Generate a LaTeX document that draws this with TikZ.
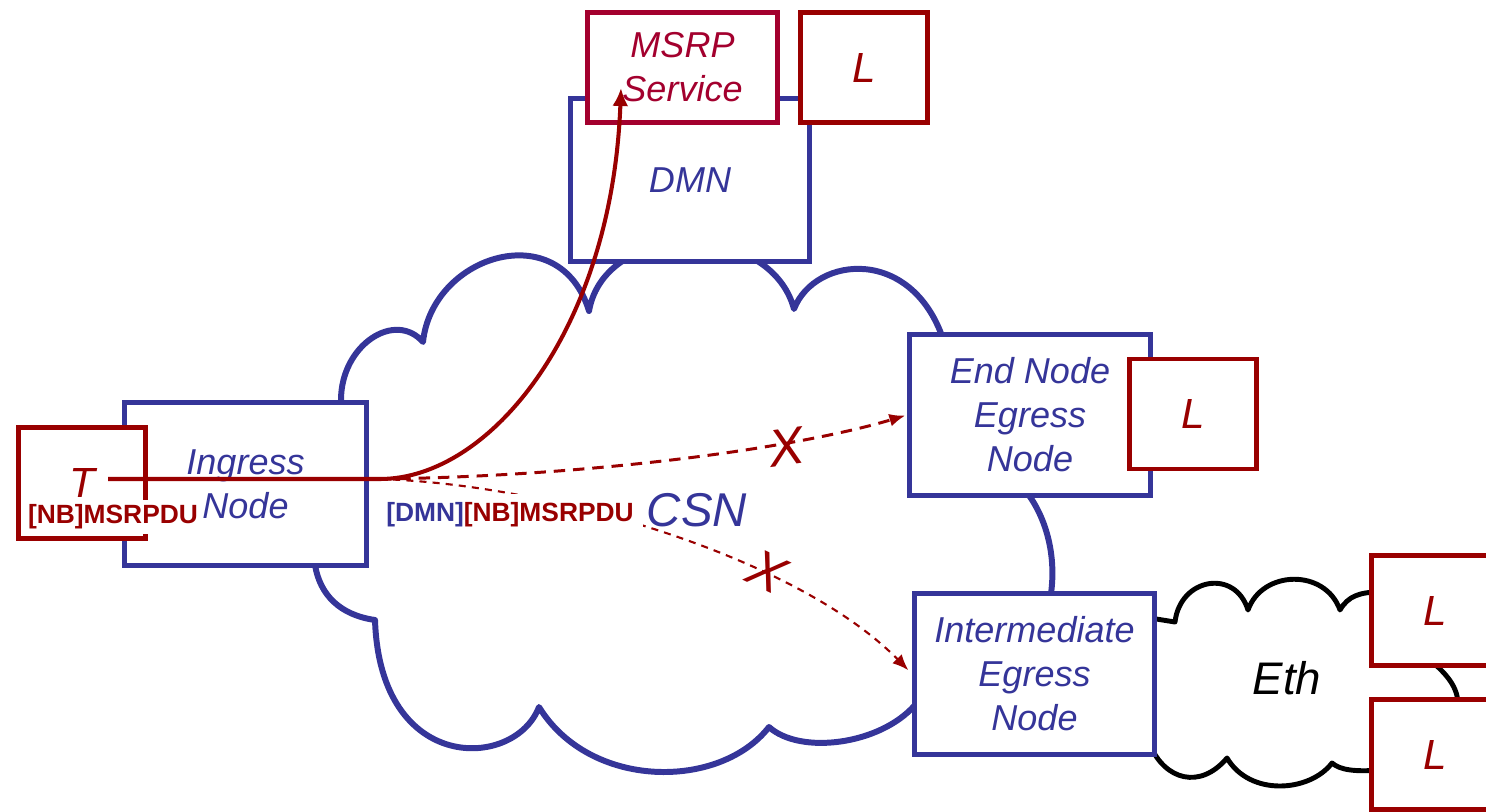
\documentclass[tikz,border=0pt]{standalone}
\usepackage{fontspec}
\setmainfont{Liberation Sans}
\usepackage{tikz}
\definecolor{csnblue}{HTML}{353599}
\definecolor{lred}{HTML}{990000}
\definecolor{msrpred}{HTML}{A3002E}
\usetikzlibrary{arrows.meta,calc}

\begin{document}
\begin{tikzpicture}[x=0.02cm,y=-0.02cm,
  nodefont/.style={font=\fontsize{20.5}{25}\selectfont\itshape},
  bluebox/.style={
    rectangle,
    draw=csnblue,
    line width=2.8pt,
    fill=white,
    text=csnblue,
    align=center,
    inner sep=0pt,
    nodefont},
  lbox/.style={
    rectangle,
    minimum width=2.54cm,
    minimum height=2.2cm,
    draw=lred,
    line width=2.8pt,
    fill=white,
    text=lred,
    inner sep=0pt,
    font=\fontsize{24}{28}\selectfont\itshape},
  pdu/.style={font=\fontsize{15}{18}\selectfont\bfseries, fill=white},
  cloudline/.style={line width=3.4pt, line join=round},
  crossmark/.style={text=lred, inner sep=0pt, font=\fontsize{30}{30}\selectfont\itshape},
  redarrow/.style={lred, -{Latex[length=0.32cm,width=0.26cm]}}]

  \useasboundingbox (0,0) rectangle (1486,811);
  \clip (0,0) rectangle (1486,811);

  \draw[csnblue,cloudline] (341,400) .. controls (341,345) and (395,310) .. (423,342)
    .. controls (432,255) and (560,215) .. (589,311)
    .. controls (605,220) and (770,220) .. (794,309)
    .. controls (815,255) and (915,245) .. (945,345)
    -- (1025,490) .. controls (1045,515) and (1058,555) .. (1050,600)
    -- (1000,660) -- (915,705)
    .. controls (880,745) and (800,755) .. (769,727)
    .. controls (720,790) and (590,790) .. (539,707)
    .. controls (515,770) and (380,775) .. (375,620)
    .. controls (340,615) and (320,595) .. (315,565)
    -- cycle;

  \draw[black,line width=2.8pt,line join=round] (1150,618) -- (1175,622)
    .. controls (1180,578) and (1235,568) .. (1248,610)
    .. controls (1262,570) and (1325,568) .. (1340,610)
    .. controls (1348,596) and (1360,592) .. (1380,592)
    -- (1430,660) .. controls (1448,675) and (1458,688) .. (1458,705)
    -- (1380,770)
    .. controls (1355,772) and (1340,770) .. (1332,763)
    .. controls (1310,792) and (1250,797) .. (1227,758)
    .. controls (1200,790) and (1165,780) .. (1150,745)
    -- cycle;

  \node[bluebox, minimum width=4.84cm, minimum height=3.26cm] at (245.5,484) (ingress) {Ingress\\Node};

  \node[lbox, minimum height=2.22cm] at (82,483) (tbox) {T};

  \node[pdu, text=lred, inner sep=0.1cm] at (113,517) (nbpdu) {[NB]MSRPDU};

  \node[bluebox, minimum width=4.78cm, minimum height=3.26cm] at (690,180) (dmn) {DMN};

  \node[
    rectangle,
    minimum width=3.8cm,
    minimum height=2.2cm,
    draw=msrpred,
    line width=2.8pt,
    fill=white,
    text=msrpred,
    align=center,
    inner sep=0pt,
    nodefont] at (682.5,67.5) (msrp) {MSRP\\Service};

  \node[lbox] at (864,67.5) (ldmn) {L};

  \node[bluebox, minimum width=4.82cm, minimum height=3.22cm] at (1030,415) (endnode) {End Node\\Egress\\Node};

  \node[lbox] at (1193,414) (lend) {L};

  \node[bluebox, minimum width=4.8cm, minimum height=3.22cm] at (1034.5,674) (inter) {Intermediate\\Egress\\Node};

  \node[lbox] at (1435,610.5) (leth) {L};
  \node[lbox] at (1435,754.5) (lethb) {L};

  \node[text=csnblue, font=\fontsize{27}{30}\selectfont\itshape] at (697,510) (csn) {CSN};
  \node[font=\fontsize{26}{30}\selectfont\itshape] at (1287,678) (eth) {Eth};

  \coordinate (tstart) at (108,479);
  \coordinate (split) at (380,479);
  \coordinate (msrpin) at (621,88);

  \draw[redarrow, line width=1.7pt, dash pattern=on 6.5pt off 4.5pt, shorten >=1pt] (split) .. controls (600,476) and (800,447) .. (endnode.west);
  \draw[redarrow, line width=1.2pt, dash pattern=on 4pt off 3.5pt, shorten >=3pt] (split) .. controls (560,485) and (800,560) .. (inter.west);

  \draw[lred, line width=2.3pt, -{Latex[length=0.36cm,width=0.32cm]}] (tstart) -- (split) .. controls (490,479) and (612,330) .. (msrpin);

  \node[pdu, inner sep=0.18cm] at (510,515) (dmnpdu) {\textcolor{csnblue}{[DMN]}\textcolor{lred}{[NB]MSRPDU}};

  \node[crossmark, rotate=8] at (786,447) (cross) {X};
  \node[crossmark, rotate=-25] at (767,571) (crossb) {X};

\end{tikzpicture}
\end{document}
